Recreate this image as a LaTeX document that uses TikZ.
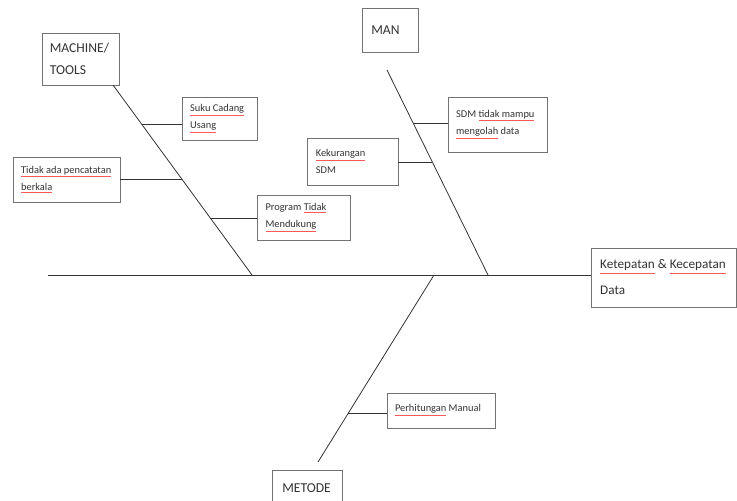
\documentclass[tikz,border=0pt]{standalone}
\usepackage{fontspec}
\setmainfont{Carlito}
\usetikzlibrary{calc}
\tikzset{
    kasten/.style={draw=black!55, line width=0.7pt, align=flush left, inner sep=0pt, text=black!80},
    besar/.style={kasten, font=\fontsize{10.2}{16.5}\selectfont},
    kecil/.style={kasten, font=\fontsize{7.8}{13}\selectfont},
    tulang/.style={draw=black!80, line width=0.6pt}
}
% rote Unterstreichung (Rechtschreibung)
\newcommand{\ejaan}[1]{\leavevmode\rlap{\color{red!65}\underline{\phantom{#1}}}#1}

\begin{document}
\begin{tikzpicture}[x=0.75pt, y=-0.75pt]
\useasboundingbox (0,0) rectangle (737,500);

% Kaesten
\node[besar, minimum width=57.75pt, minimum height=39pt, text width=46pt]
    (machine) at (80.5,59) {MACHINE/\\TOOLS};
\node[besar, minimum width=42pt, minimum height=33pt, text width=28pt]
    (man) at (390,30) {MAN\\[-4pt]};
\node[besar, minimum width=52.5pt, minimum height=27pt, text width=37pt, anchor=north]
    (metode) at (307,470) {METODE};
\node[kasten, font=\fontsize{9.9}{19.5}\selectfont, minimum width=108.75pt, minimum height=44.25pt, text width=95pt]
    (kepala) at (663.5,277.5) {\ejaan{Ketepatan} \& \ejaan{Kecepatan}\\Data};

\node[kecil, minimum width=56.25pt, minimum height=32.25pt, text width=44pt]
    (suku) at (219.5,118.5) {\ejaan{Suku Cadang}\\\ejaan{Usang}};
\node[kecil, minimum width=80.25pt, minimum height=33.75pt, text width=68pt]
    (tidak) at (66.5,179.5) {\ejaan{Tidak ada pencatatan}\\\ejaan{berkala}};
\node[kecil, minimum width=69.75pt, minimum height=33.75pt, text width=57pt]
    (program) at (303.5,217.5) {Program \ejaan{Tidak}\\\ejaan{Mendukung}};
\node[kecil, minimum width=68.25pt, minimum height=35.25pt, text width=55pt]
    (kurang) at (352.5,161.5) {\ejaan{Kekurangan}\\SDM};
\node[kecil, minimum width=74.25pt, minimum height=41.25pt, text width=62pt]
    (mampu) at (497.5,124.5) {SDM \ejaan{tidak mampu}\\\ejaan{mengolah} data};
\node[kecil, minimum width=81pt, minimum height=26.25pt, text width=69pt]
    (hitung) at (441,410.5) {\ejaan{Perhitungan} Manual\\[-2pt]};

% Punkte auf den Graeten
\coordinate (ekor) at (48,275);
\coordinate (mAtas) at (113,85);
\coordinate (mBawah) at (252,275);
\coordinate (nAtas) at (387,70);
\coordinate (nBawah) at (488,275);
\coordinate (tAtas) at (434,275);
\coordinate (tBawah) at (318,462);
\coordinate (c1) at (141.5,124);
\coordinate (c2) at (181.8,179);
\coordinate (c3) at (210.3,218);
\coordinate (c4) at (413,123);
\coordinate (c5) at (432.3,162);
\coordinate (c6) at (348.4,413);

% Hauptgraete
\draw[tulang] (ekor) -- (ekor -| kepala.west);

% Graeten
\draw[tulang] (mAtas) -- (mBawah);
\draw[tulang] (nAtas) -- (nBawah);
\draw[tulang] (tAtas) -- (tBawah);

% Aeste
\draw[tulang] (c1) -- (c1 -| suku.west);
\draw[tulang] (c2) -- (c2 -| tidak.east);
\draw[tulang] (c3) -- (c3 -| program.west);
\draw[tulang] (c4) -- (c4 -| mampu.west);
\draw[tulang] (c5) -- (c5 -| kurang.east);
\draw[tulang] (c6) -- (c6 -| hitung.west);

\end{tikzpicture}
\end{document}
